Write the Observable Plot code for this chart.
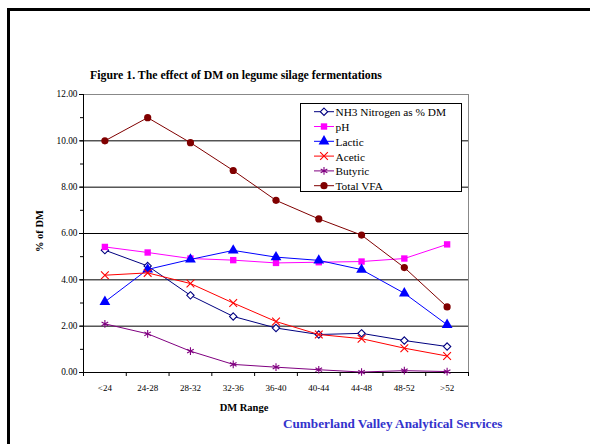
<!DOCTYPE html>
<html>
<head>
<meta charset="utf-8">
<script src="https://cdn.jsdelivr.net/npm/d3@7"></script>
<script src="https://cdn.jsdelivr.net/npm/@observablehq/plot@0.6"></script>
<style>
  html, body { margin: 0; padding: 0; background: #fff; }
  #chart svg { display: block; }
</style>
</head>
<body>
<div id="chart"></div>
<script>
const categories = ["<24", "24-28", "28-32", "32-36", "36-40", "40-44", "44-48", "48-52", ">52"];
const nh3      = [5.28, 4.60, 3.33, 2.42, 1.92, 1.64, 1.69, 1.38, 1.12];
const ph       = [5.42, 5.18, 4.92, 4.85, 4.73, 4.76, 4.79, 4.92, 5.53];
const lactic   = [3.05, 4.45, 4.88, 5.27, 4.98, 4.84, 4.44, 3.42, 2.06];
const acetic   = [4.20, 4.30, 3.84, 3.00, 2.20, 1.64, 1.46, 1.05, 0.71];
const butyric  = [2.10, 1.67, 0.92, 0.35, 0.23, 0.12, 0.02, 0.08, 0.04];
const totalVFA = [10.00, 11.00, 9.92, 8.72, 7.43, 6.63, 5.93, 4.53, 2.83];
const yTicks = [0, 2, 4, 6, 8, 10, 12];

const series = [
  {name: "NH3 Nitrogen as % DM", values: nh3,      color: "#000080", symbol: "diamond2", fill: "white",   r: 3.3, stroked: true},
  {name: "pH",                   values: ph,       color: "#FF00FF", symbol: "square",   fill: "#FF00FF", r: 3.6, stroked: false},
  {name: "Lactic",               values: lactic,   color: "#0000FF", symbol: "triangle", fill: "#0000FF", r: 4.0, stroked: false},
  {name: "Acetic",               values: acetic,   color: "#FF0000", symbol: "times",    fill: "none",    r: 3.6, stroked: true},
  {name: "Butyric",              values: butyric,  color: "#800080", symbol: "asterisk", fill: "none",    r: 3.6, stroked: true},
  {name: "Total VFA",            values: totalVFA, color: "#800000", symbol: "circle",   fill: "#800000", r: 3.6, stroked: false}
];

const rows = series.flatMap(s => s.values.map((v, i) => ({series: s.name, i, v})));

const marks = [
  Plot.gridY(yTicks.filter(t => t > 0 && t < 12), {stroke: "black", strokeOpacity: 1}),
  Plot.ruleY([12], {stroke: "#888"}),
  Plot.ruleX([8.5], {stroke: "#888"}),
  Plot.axisY({ticks: d3.range(0, 13, 1), tickSize: 3, text: null, label: null}),
  Plot.axisY({ticks: yTicks, tickSize: 4, tickPadding: 2, tickFormat: d => d.toFixed(2), label: null, fontSize: 9.3}),
  Plot.axisX({ticks: d3.range(-0.5, 9, 1), tickSize: 4, text: null, label: null}),
  Plot.axisX({ticks: d3.range(0, 9), tickSize: 0, tickPadding: 12, tickFormat: i => categories[i], label: null, fontSize: 9}),
  Plot.ruleX([-0.5], {stroke: "black"}),
  Plot.ruleY([0], {stroke: "black"})
];
for (const s of series) {
  const data = rows.filter(d => d.series === s.name);
  marks.push(Plot.line(data, {x: "i", y: "v", stroke: s.color, strokeWidth: 1}));
  marks.push(Plot.dot(data, {
    x: "i", y: "v", symbol: () => s.symbol, r: s.r,
    fill: s.fill, stroke: s.stroked ? s.color : "none", strokeWidth: 1.1
  }));
}

const chart = Plot.plot({
  width: 590, height: 444,
  marginLeft: 83, marginRight: 122, marginTop: 94, marginBottom: 72,
  x: {type: "linear", domain: [-0.5, 8.5]},
  y: {type: "linear", domain: [0, 12]},
  style: {fontFamily: "Liberation Serif, Times New Roman, serif", fontSize: "9px", color: "black", background: "white"},
  marks
});

const svg = d3.select(chart);
const FF = "Liberation Serif, serif";
// outer frame
svg.append("path").attr("d", "M8.5,444 V9.5 H600").attr("fill", "none").attr("stroke", "black").attr("stroke-width", 3);
// title
svg.append("text").attr("x", 236).attr("y", 79).attr("text-anchor", "middle")
  .attr("font-weight", "bold").attr("font-size", 11.8).attr("font-family", FF)
  .text("Figure 1. The effect of DM on legume silage fermentations");
// y label
svg.append("text").attr("transform", "translate(43,231) rotate(-90)").attr("text-anchor", "middle")
  .attr("font-weight", "bold").attr("font-size", 10.5).attr("font-family", FF)
  .text("% of DM");
// x label
svg.append("text").attr("x", 244).attr("y", 411).attr("text-anchor", "middle")
  .attr("font-weight", "bold").attr("font-size", 10.5).attr("font-family", FF)
  .text("DM Range");
// footer
svg.append("text").attr("x", 283).attr("y", 428).attr("text-anchor", "start")
  .attr("font-weight", "bold").attr("font-size", 13.2).attr("font-family", FF)
  .attr("fill", "#3333CC")
  .text("Cumberland Valley Analytical Services");
// legend
const lg = svg.append("g");
lg.append("rect").attr("x", 300.5).attr("y", 103.5).attr("width", 161).attr("height", 88)
  .attr("fill", "white").attr("stroke", "black").attr("stroke-width", 1);
const symMap = {diamond2: d3.symbolDiamond2, square: d3.symbolSquare, triangle: d3.symbolTriangle,
                times: d3.symbolTimes, asterisk: d3.symbolAsterisk, circle: d3.symbolCircle};
series.forEach((s, k) => {
  const yy = 111.7 + k * 14.8;
  lg.append("line").attr("x1", 314).attr("x2", 334).attr("y1", yy).attr("y2", yy)
    .attr("stroke", s.color).attr("stroke-width", 1);
  lg.append("path").attr("transform", `translate(324,${yy})`)
    .attr("d", d3.symbol(symMap[s.symbol], s.r * s.r * Math.PI)())
    .attr("fill", s.fill).attr("stroke", s.stroked ? s.color : "none").attr("stroke-width", 1.1);
  lg.append("text").attr("x", 335.5).attr("y", yy + 4.5).attr("text-anchor", "start")
    .attr("font-size", 11.3).attr("font-family", FF)
    .text(s.name);
});

document.getElementById("chart").appendChild(chart);
</script>
</body>
</html>
